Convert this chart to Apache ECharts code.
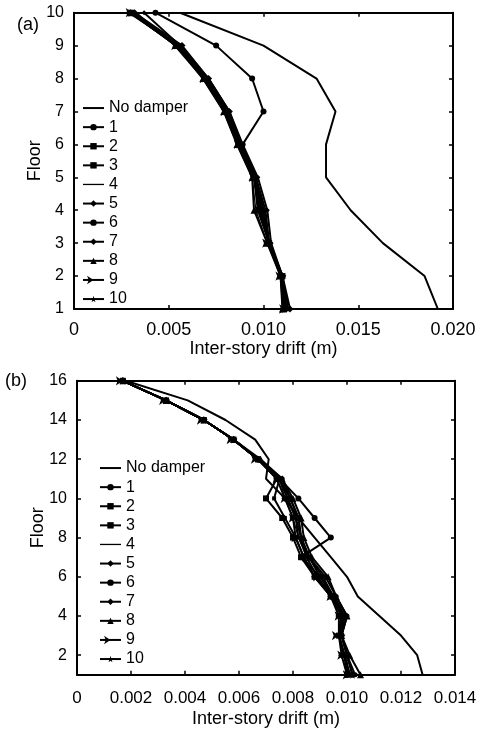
<!DOCTYPE html>
<html>
<head>
<meta charset="utf-8">
<script src="https://cdn.jsdelivr.net/npm/echarts@6/dist/echarts.min.js"></script>
<style>html,body{margin:0;padding:0;background:#fff}#c{width:492px;height:733px}</style>
</head>
<body>
<div id="c"></div>
<script>
// ---------- data ----------
const seriesNames = ['No damper','1','2','3','4','5','6','7','8','9','10'];
const floorsA = [1,2,3,4,5,6,7,8,9,10];
const floorsB = [1,2,3,4,5,6,7,8,9,10,11,12,13,14,15,16];
const xTicksA = [0,0.005,0.010,0.015,0.020];
const xTicksB = [0,0.002,0.004,0.006,0.008,0.010,0.012,0.014];
const yTicksB = [2,4,6,8,10,12,14,16];

// (a) drift per floor, floor 1 -> 10
const a_noDamper = [0.0192,0.0185,0.0163,0.0146,0.0133,0.0133,0.0138,0.0128,0.0100,0.0056];
const a_1  = [0.0111,0.0110,0.0103,0.0098,0.0095,0.0089,0.0100,0.0094,0.0075,0.0043];
const a_2  = [0.0111,0.0110,0.0103,0.0099,0.0095,0.0087,0.0080,0.0069,0.0054,0.0030];
const a_3  = [0.0112,0.0110,0.0103,0.0101,0.0096,0.0088,0.0081,0.0070,0.0055,0.0031];
const a_4  = [0.0110,0.0109,0.0102,0.0096,0.0094,0.0086,0.0079,0.0068,0.0053,0.0033];
const a_5  = [0.0113,0.0110,0.0104,0.0102,0.0097,0.0089,0.0082,0.0071,0.0056,0.0037];
const a_6  = [0.0111,0.0109,0.0103,0.0098,0.0095,0.0087,0.0080,0.0069,0.0055,0.0029];
const a_7  = [0.0114,0.0110,0.0103,0.0100,0.0096,0.0088,0.0082,0.0071,0.0057,0.0032];
const a_8  = [0.0110,0.0109,0.0102,0.0095,0.0094,0.0086,0.0079,0.0068,0.0054,0.0030];
const a_9  = [0.0112,0.0110,0.0103,0.0099,0.0096,0.0088,0.0081,0.0070,0.0055,0.0031];
const a_10 = [0.0111,0.0110,0.0103,0.0097,0.0095,0.0087,0.0080,0.0069,0.0054,0.0030];

// (b) drift per floor, floor 1 -> 16
const b_noDamper = [0.0128,0.0126,0.0120,0.0112,0.0104,0.0100,0.0094,0.0088,0.0082,0.0077,0.0070,0.0071,0.0066,0.0055,0.0041,0.0018];
const b_1  = [0.0102,0.0100,0.0098,0.0099,0.0095,0.0090,0.0083,0.0094,0.0088,0.0082,0.0075,0.0067,0.0058,0.0047,0.0033,0.0017];
const b_2  = [0.0100,0.0099,0.0097,0.0098,0.0094,0.0088,0.0083,0.0080,0.0076,0.0070,0.0074,0.0067,0.0058,0.0047,0.0033,0.0017];
const b_3  = [0.0101,0.0099,0.0097,0.0099,0.0095,0.0088,0.0084,0.0081,0.0077,0.0073,0.0075,0.0067,0.0058,0.0047,0.0033,0.0017];
const b_4  = [0.0100,0.0100,0.0098,0.0100,0.0095,0.0089,0.0085,0.0082,0.0080,0.0077,0.0075,0.0067,0.0058,0.0047,0.0033,0.0017];
const b_5  = [0.0101,0.0099,0.0097,0.0099,0.0094,0.0089,0.0085,0.0083,0.0081,0.0078,0.0075,0.0067,0.0058,0.0047,0.0033,0.0017];
const b_6  = [0.0103,0.0100,0.0098,0.0100,0.0096,0.0092,0.0086,0.0083,0.0082,0.0079,0.0076,0.0067,0.0058,0.0047,0.0033,0.0017];
const b_7  = [0.0100,0.0098,0.0097,0.0097,0.0094,0.0088,0.0084,0.0081,0.0080,0.0077,0.0074,0.0067,0.0058,0.0047,0.0033,0.0017];
const b_8  = [0.0105,0.0101,0.0098,0.0100,0.0096,0.0093,0.0087,0.0084,0.0083,0.0080,0.0076,0.0068,0.0058,0.0047,0.0033,0.0017];
const b_9  = [0.0101,0.0099,0.0097,0.0098,0.0095,0.0090,0.0086,0.0082,0.0081,0.0078,0.0075,0.0067,0.0058,0.0047,0.0033,0.0017];
const b_10 = [0.0102,0.0100,0.0098,0.0099,0.0095,0.0091,0.0086,0.0083,0.0082,0.0079,0.0075,0.0067,0.0058,0.0047,0.0033,0.0017];

const valuesA = [a_noDamper,a_1,a_2,a_3,a_4,a_5,a_6,a_7,a_8,a_9,a_10];
const valuesB = [b_noDamper,b_1,b_2,b_3,b_4,b_5,b_6,b_7,b_8,b_9,b_10];

// ---------- styles ----------
const STAR = 'path://M50,0 L61,35 L98,35 L68,57 L79,91 L50,70 L21,91 L32,57 L2,35 L39,35 Z';
const markers = [
  {symbol:'none', size:0, rot:0},
  {symbol:'circle', size:6, rot:0},
  {symbol:'rect', size:6, rot:0},
  {symbol:'rect', size:4, rot:0},
  {symbol:'none', size:0, rot:0},
  {symbol:'diamond', size:5, rot:0},
  {symbol:'circle', size:5, rot:0},
  {symbol:'diamond', size:7, rot:0},
  {symbol:'triangle', size:7, rot:0},
  {symbol:'arrow', size:7, rot:-90},
  {symbol:STAR, size:8, rot:0}
];
// legend icons for plain lines (no marker)
const plainIcon = {0:'path://M0,0 L21,0 L21,2 L0,2 Z', 4:'path://M0,0 L21,0 L21,1.3 L0,1.3 Z'};
const FONT = "'Liberation Sans', Arial, sans-serif";
const lineW = [2,2,2,2,1.2,2,2,2,2,2,2];

function buildSeries(values, floors, axisIdx) {
  return values.map((vals, i) => ({
    name: seriesNames[i],
    type: 'line',
    xAxisIndex: axisIdx, yAxisIndex: axisIdx,
    data: vals.map((v, k) => [v, floors[k]]),
    symbol: markers[i].symbol,
    symbolSize: markers[i].size,
    symbolRotate: markers[i].rot,
    showSymbol: markers[i].symbol !== 'none',
    lineStyle: {color:'#000', width: lineW[i]},
    itemStyle: {color:'#000'},
    emphasis: {disabled:true},
    animation: false,
    z: 2
  }));
}

function xAx(grid, max, interval, pos, fs, margin, name, gap) {
  return {
    gridIndex: grid, type:'value', min:0, max:max, interval:interval, position:pos,
    axisLine:{show:true, onZero:false, lineStyle:{color:'#000', width:2}},
    axisTick:{show:true, inside:true, length:4, lineStyle:{color:'#000', width:1.5}},
    axisLabel:{show: pos==='bottom', color:'#000', fontSize:fs, fontFamily:FONT, margin:margin,
      formatter: v => v === 0 ? '0' : v.toFixed(3)},
    splitLine:{show:false},
    name: pos==='bottom' ? name : '', nameLocation:'middle', nameGap:gap, nameMoveOverlap:false,
    nameTextStyle:{color:'#000', fontSize:18, fontFamily:FONT}
  };
}
function yAx(grid, min, max, interval, custom, pos) {
  const ax = {
    gridIndex: grid, type:'value', min:min, max:max, position:pos,
    axisLine:{show:true, onZero:false, lineStyle:{color:'#000', width:2}},
    axisTick:{show:true, inside:true, length:4, lineStyle:{color:'#000', width:1.5}},
    axisLabel:{show: pos==='left', color:'#000', fontSize:16, fontFamily:FONT, margin:10},
    splitLine:{show:false},
    name: pos==='left' ? 'Floor' : '', nameLocation:'middle', nameGap:30, nameMoveOverlap:false,
    nameTextStyle:{color:'#000', fontSize:18, fontFamily:FONT}
  };
  if (interval) ax.interval = interval;
  if (custom) { ax.axisLabel.customValues = custom; ax.axisTick.customValues = custom; }
  return ax;
}

function legend(top, left) {
  return {
    orient:'vertical', left:left, top:top, padding:0,
    data: seriesNames.map((n, i) => plainIcon[i] ? {name:n, icon:plainIcon[i]} : {name:n}),
    itemWidth:21, itemHeight:8, itemGap:0,
    symbolKeepAspect:true,
    selectedMode:false,
    textStyle:{color:'#000', fontSize:16, fontFamily:FONT, lineHeight:19.1},
    inactiveColor:'#000'
  };
}

const chart = echarts.init(document.getElementById('c'), null, {renderer:'canvas'});
chart.setOption({
  animation:false,
  backgroundColor:'#fff',
  grid:[
    {left:74, top:12.7, width:379, height:296.3, containLabel:false},
    {left:77, top:380.8, width:378, height:294, containLabel:false}
  ],
  xAxis:[
    xAx(0, 0.020, 0.005, 'bottom', 18, 12, 'Inter-story drift (m)', 31),
    xAx(0, 0.020, 0.005, 'top', 18, 12, '', 0),
    xAx(1, 0.014, 0.002, 'bottom', 17, 15, 'Inter-story drift (m)', 35),
    xAx(1, 0.014, 0.002, 'top', 17, 15, '', 0)
  ],
  yAxis:[
    yAx(0, 1, 10, 1, null, 'left'),
    yAx(0, 1, 10, 1, null, 'right'),
    yAx(1, 1, 16, null, yTicksB, 'left'),
    yAx(1, 1, 16, null, yTicksB, 'right')
  ],
  legend:[legend(98.5, 82), legend(458.5, 99)],
  graphic:[
    {type:'text', left:17, top:16, style:{text:'(a)', fontSize:18, fontFamily:FONT, fill:'#000'}},
    {type:'text', left:5, top:372, style:{text:'(b)', fontSize:18, fontFamily:FONT, fill:'#000'}}
  ],
  series: buildSeries(valuesA, floorsA, 0).concat(buildSeries(valuesB, floorsB, 2))
});
</script>
</body>
</html>
